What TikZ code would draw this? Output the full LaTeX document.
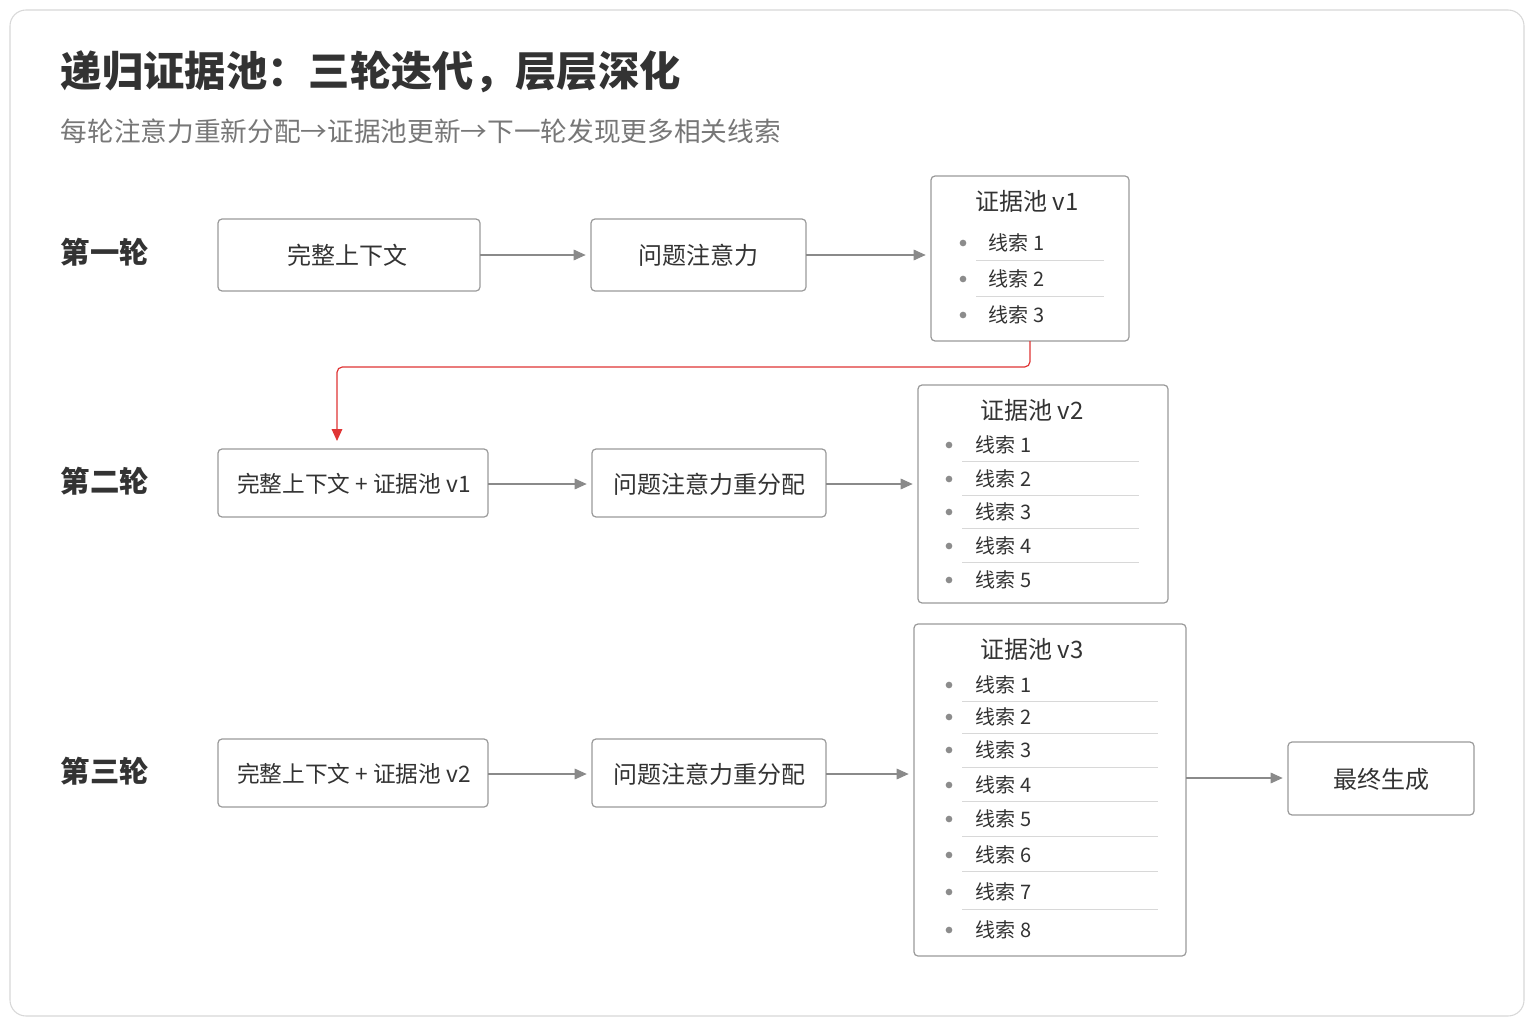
\documentclass[tikz,border=0pt]{standalone}
\usepackage{fontspec}
\setmainfont{Noto Sans CJK SC}
\usetikzlibrary{arrows.meta}
\definecolor{txt}{HTML}{333333}
\definecolor{sub}{HTML}{777777}
\definecolor{bd}{HTML}{9A9A9A}
\definecolor{ar}{HTML}{8A8A8A}
\definecolor{redar}{HTML}{E03535}
\definecolor{sep}{HTML}{D8D8D8}
\definecolor{dot}{HTML}{8C8C8C}
\begin{document}
\begin{tikzpicture}[x=0.75pt,y=-0.75pt,
  box/.style={draw=bd,line width=0.9pt,rounded corners=3pt,fill=white},
  lbl/.style={font=\fontsize{18}{20}\selectfont,text=txt},
  lbls/.style={font=\fontsize{17}{20}\selectfont,text=txt},
  arr/.style={draw=ar,line width=0.8pt,shorten >=4pt,-{Triangle[length=9pt,width=8pt]}},
  rnd/.style={anchor=west,font=\fontsize{22}{24}\selectfont\bfseries,text=txt},
  item/.style={anchor=west,font=\fontsize{15}{17}\selectfont,text=txt},
  ptitle/.style={font=\fontsize{18}{20}\selectfont,text=txt},
  bul/.style={fill=dot,draw=none,circle,inner sep=0pt,minimum size=5pt},
  sepl/.style={draw=sep,line width=0.6pt}]
\useasboundingbox (0,0) rectangle (1536,1024);
\fill[white] (0,0) rectangle (1536,1024);
\draw[draw=sep,line width=0.8pt,rounded corners=12pt] (10,10) rectangle (1524,1016);
\node[anchor=west,font=\fontsize{31}{34}\selectfont\bfseries,text=txt] (title) at (56,72) {递归证据池：三轮迭代，层层深化};
\node[anchor=west,font=\fontsize{20}{22}\selectfont,text=sub] (subt) at (56,131) {每轮注意力重新分配→证据池更新→下一轮发现更多相关线索};
\node[rnd] (r1) at (56,252) {第一轮};
\node[rnd] (r2) at (56,481) {第二轮};
\node[rnd] (r3) at (56,771) {第三轮};
% boxes
\draw[box] (218,219) rectangle (480,291); \node[lbl] (a1) at (347,255) {完整上下文};
\coordinate (a1e) at (480,255);
\draw[box] (591,219) rectangle (806,291); \node[lbl] (b1) at (698,255) {问题注意力};
\coordinate (b1w) at (591,255); \coordinate (b1e) at (806,255);
\draw[box] (931,176) rectangle (1129,341); \coordinate (p1w) at (931,255); \coordinate (p1s) at (1030,341);
\node[ptitle] (p1t) at (1027,201) {证据池 v1};
\foreach \y/\n in {243/1,279/2,315/3}{\node[bul] at (963,\y) {}; \node[item] at (984,\y) {线索 \n};}
\foreach \y in {260,296}{\draw[sepl] (976,\y) -- (1104,\y);}

\draw[box] (218,449) rectangle (488,517); \node[lbls] (a2) at (354,484) {完整上下文 + 证据池 v1};
\coordinate (a2n) at (337,449); \coordinate (a2e) at (488,484);
\draw[box] (592,449) rectangle (826,517); \node[lbl] (b2) at (709,484) {问题注意力重分配};
\coordinate (b2w) at (592,484); \coordinate (b2e) at (826,484);
\draw[box] (918,385) rectangle (1168,603); \coordinate (p2w) at (918,484);
\node[ptitle] (p2t) at (1032,410) {证据池 v2};
\foreach \y/\n in {445/1,479/2,512/3,546/4,580/5}{\node[bul] at (949,\y) {}; \node[item] at (971,\y) {线索 \n};}
\foreach \y in {461,495,528,562}{\draw[sepl] (962,\y) -- (1139,\y);}

\draw[box] (218,739) rectangle (488,807); \node[lbls] (a3) at (354,774) {完整上下文 + 证据池 v2};
\coordinate (a3e) at (488,774);
\draw[box] (592,739) rectangle (826,807); \node[lbl] (b3) at (709,774) {问题注意力重分配};
\coordinate (b3w) at (592,774); \coordinate (b3e) at (826,774);
\draw[box] (914,624) rectangle (1186,956); \coordinate (p3w) at (914,774); \coordinate (p3e) at (1186,778);
\node[ptitle] (p3t) at (1032,649) {证据池 v3};
\foreach \y/\n in {685/1,717/2,750/3,785/4,819/5,855/6,892/7,930/8}{\node[bul] at (949,\y) {}; \node[item] at (971,\y) {线索 \n};}
\foreach \y in {701,733,767,801,836,871,909}{\draw[sepl] (962,\y) -- (1158,\y);}
\draw[box] (1288,742) rectangle (1474,815); \node[lbl] (f) at (1381,779) {最终生成};
\coordinate (fw) at (1288,778);

\draw[arr] (a1e) -- (b1w);
\draw[arr] (b1e) -- (p1w);
\draw[arr] (a2e) -- (b2w);
\draw[arr] (b2e) -- (p2w);
\draw[arr] (a3e) -- (b3w);
\draw[arr] (b3e) -- (p3w);
\draw[arr] (p3e) -- (fw);
\draw[draw=redar,line width=0.9pt,rounded corners=4pt,shorten >=6pt,-{Triangle[length=9pt,width=8pt]}] (p1s) -- (1030,367) -- (337,367) -- (a2n);
\end{tikzpicture}
\end{document}
